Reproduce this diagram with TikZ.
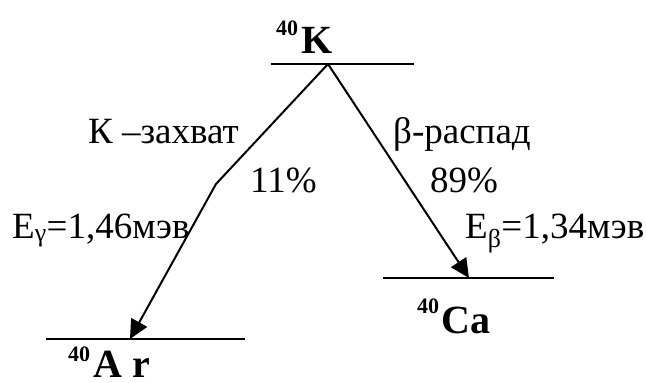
\documentclass[tikz,border=0pt]{standalone}
\usepackage{fontspec}
\setmainfont{Liberation Serif}
\newfontfamily\tnr{Liberation Serif}
\usetikzlibrary{arrows.meta}
\tikzset{
  level/.style={line width=2pt},
  decay/.style={line width=2pt,-{Triangle[length=19pt,width=18pt]}},
  lbl/.style={inner sep=0pt,anchor=base west,font=\tnr\fontsize{37}{37}\selectfont},
  nuc/.style={inner sep=0pt,anchor=base west,font=\tnr\fontsize{40}{40}\selectfont\bfseries},
}
\newcommand{\mysup}[2]{\raisebox{#1}{\fontsize{22}{22}\selectfont\bfseries #2}}
\begin{document}
\begin{tikzpicture}[x=1pt,y=-1pt]
\useasboundingbox (0,0) rectangle (646,383);
% levels
\coordinate (kL) at (271,64); \coordinate (kR) at (414,64);
\coordinate (apex) at (328,64);
\coordinate (arL) at (46,339); \coordinate (arR) at (245,339);
\coordinate (arT) at (130,339);
\coordinate (caL) at (383,278); \coordinate (caR) at (554,278);
\coordinate (caT) at (469,278);
\coordinate (bend) at (216,184);
\draw[level] (kL) -- (kR);
\draw[level] (arL) -- (arR);
\draw[level] (caL) -- (caR);
% decays
\draw[decay] (apex) -- (bend) -- (arT);
\draw[decay] (apex) -- (caT);
% labels
\node[nuc] (K) at (276,53) {\mysup{18pt}{40}\hspace{3pt}K};
\node[nuc] (Ar) at (68,377) {\mysup{16pt}{40}\hspace{3pt}A r};
\node[nuc] (Ca) at (417,333) {\mysup{20pt}{40}\hspace{2pt}Ca};
\node[lbl] (kz) at (88,143) {К –захват};
\node[lbl] (p11) at (250,192) {11\%};
\node[lbl] (br) at (393,143) {β-распад};
\node[lbl] (p89) at (430,192) {89\%};
\node[lbl] (eg) at (12,238) {E\textsubscript{γ}=1,46мэв};
\node[lbl] (eb) at (465,238) {E\textsubscript{β}=1,34мэв};
\end{tikzpicture}
\end{document}
